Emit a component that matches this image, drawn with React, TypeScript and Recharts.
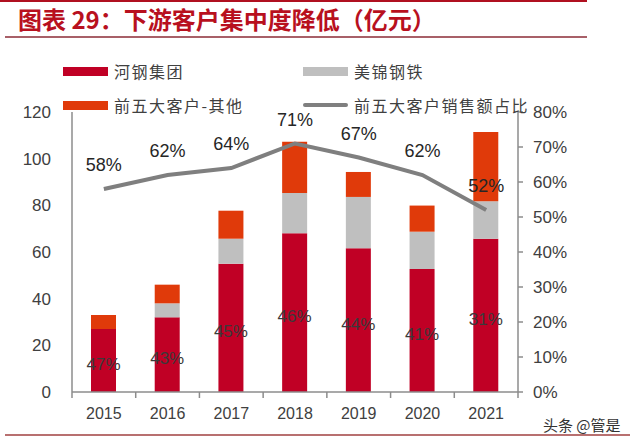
import React from 'react';
import { ComposedChart, Bar, Line, XAxis, YAxis, Legend, LabelList } from 'recharts';

const years = ['2015', '2016', '2017', '2018', '2019', '2020', '2021'];
const hegang = [27, 32, 55, 68, 61.6, 52.7, 65.7];
const meijin = [0, 6, 10.7, 17.3, 22, 16, 16];
const others = [6, 8, 12, 22, 10.7, 11.2, 29.7];
const top5Share = [58, 62, 64, 71, 67, 62, 52];
const hegangShare = [47, 43, 45, 46, 44, 41, 31];
const leftTicks = [0, 20, 40, 60, 80, 100, 120];
const rightTicks = [0, 10, 20, 30, 40, 50, 60, 70, 80];

const names = {
  hegang: '河钢集团',
  meijin: '美锦钢铁',
  others: '前五大客户-其他',
  share: '前五大客户销售额占比',
};

const data = years.map((y, i) => ({
  year: y,
  hegang: hegang[i],
  meijin: meijin[i],
  others: others[i],
  share: top5Share[i],
  hgShare: hegangShare[i],
}));

const COLORS = {
  hegang: '#C00025',
  meijin: '#BFBFBF',
  others: '#E03A0A',
  line: '#7F7F7F',
  text: '#404040',
};

const PLOT_LEFT = 72;
const PLOT_RIGHT = 518;
const BAND = (PLOT_RIGHT - PLOT_LEFT) / years.length;

const XTick = (props: any) => {
  const { x, y, payload } = props;
  const half = BAND / 2;
  const last = payload.value === years[years.length - 1];
  return (
    <g>
      <line x1={x - half} x2={x - half} y1={y} y2={y + 6} stroke="#8C8C8C" strokeWidth={1.5} />
      {last && <line x1={x + half} x2={x + half} y1={y} y2={y + 6} stroke="#8C8C8C" strokeWidth={1.5} />}
      <text x={x} y={y + 27} textAnchor="middle" fill={COLORS.text} fontSize={16} fontFamily="'Liberation Sans', Arial, sans-serif">
        {payload.value}
      </text>
    </g>
  );
};

const BarPctLabel = (props: any) => {
  const { x, y, width, height, value } = props;
  return (
    <text
      x={x + width / 2}
      y={y + height / 2 + 4}
      textAnchor="middle"
      dominantBaseline="central"
      fill="#3A3A3A"
      fontSize={17}
      fontFamily="'Liberation Sans', Arial, sans-serif"
    >
      {value}%
    </text>
  );
};

const legendFont = "'Noto Sans CJK SC', sans-serif";

const LegendContent = () => {
  const items = [
    { key: 'hegang', x: 63, y: 71, type: 'rect', color: COLORS.hegang },
    { key: 'meijin', x: 303, y: 71, type: 'rect', color: COLORS.meijin },
    { key: 'others', x: 63, y: 105, type: 'rect', color: COLORS.others },
    { key: 'share', x: 303, y: 105, type: 'line', color: COLORS.line },
  ];
  return (
    <div style={{ position: 'relative', width: 640, height: 0 }}>
      {items.map((it) => (
        <div key={it.key} style={{ position: 'absolute', left: it.x, top: it.y - 12, height: 24, display: 'flex', alignItems: 'center' }}>
          {it.type === 'rect' ? (
            <div style={{ width: 45, height: 9, background: it.color }} />
          ) : (
            <div style={{ width: 45, height: 4, borderRadius: 2, background: it.color }} />
          )}
          <span style={{ marginLeft: 6, fontSize: 16, letterSpacing: 1.5, color: COLORS.text, fontFamily: legendFont, whiteSpace: 'nowrap' }}>
            {(names as any)[it.key]}
          </span>
        </div>
      ))}
    </div>
  );
};

export default function App() {
  return (
    <div style={{ position: 'fixed', left: 0, top: 0, width: 640, height: 445, background: '#fff', overflow: 'hidden' }}>
      <div style={{ position: 'absolute', left: 0, top: 0, width: 587, height: 2, background: '#B01020' }} />
      <div
        style={{
          position: 'absolute',
          left: 18,
          top: 4,
          fontSize: 24,
          fontWeight: 700,
          color: '#B8101E',
          fontFamily: "'Noto Sans CJK SC', sans-serif",
          whiteSpace: 'nowrap',
          lineHeight: '30px',
        }}
      >
        图表 29：下游客户集中度降低（亿元）
      </div>
      <div style={{ position: 'absolute', left: 5, top: 36, width: 582, height: 1.5, background: '#A86068' }} />
      <div style={{ position: 'absolute', left: 5, top: 434, width: 625, height: 1.5, background: '#B87070' }} />
      <div
        style={{
          position: 'absolute',
          left: 543,
          top: 414,
          fontSize: 15,
          color: '#333',
          fontFamily: "'Noto Sans CJK SC', sans-serif",
          whiteSpace: 'nowrap',
        }}
      >
        头条 @管是
      </div>
      <div style={{ position: 'absolute', left: 0, top: 0 }}>
        <ComposedChart
          width={640}
          height={445}
          data={data}
          margin={{ top: 112, right: 0, bottom: 23, left: 0 }}
          barCategoryGap={0}
        >
          <XAxis
            dataKey="year"
            xAxisId="x"
            axisLine={{ stroke: '#8C8C8C', strokeWidth: 1.5 }}
            tickLine={false}
            tickSize={0}
            tickMargin={0}
            height={30}
            tick={<XTick />}
            interval={0}
          />
          <YAxis
            yAxisId="left"
            orientation="left"
            width={72}
            domain={[0, 120]}
            ticks={leftTicks}
            axisLine={{ stroke: '#8C8C8C', strokeWidth: 1.5 }}
            tickLine={false}
            tickSize={0}
            tickMargin={21}
            tick={{ fill: COLORS.text, fontSize: 17, fontFamily: "'Liberation Sans', Arial, sans-serif" }}
            interval={0}
          />
          <YAxis
            yAxisId="right"
            orientation="right"
            width={122}
            domain={[0, 80]}
            ticks={rightTicks}
            tickFormatter={(v: number) => `${v}%`}
            axisLine={{ stroke: '#8C8C8C', strokeWidth: 1.5 }}
            tickLine={{ stroke: '#8C8C8C', strokeWidth: 1.5 }}
            tickSize={5}
            tickMargin={10}
            tick={{ fill: COLORS.text, fontSize: 17, fontFamily: "'Liberation Sans', Arial, sans-serif" }}
            interval={0}
          />
          <Legend content={<LegendContent />} wrapperStyle={{ position: 'absolute', top: 0, left: 0, width: 640, height: 0 }} />
          <Bar dataKey="hegang" name={names.hegang} xAxisId="x" yAxisId="left" stackId="s" fill={COLORS.hegang} barSize={25} isAnimationActive={false}>
            <LabelList dataKey="hgShare" content={<BarPctLabel />} />
          </Bar>
          <Bar dataKey="meijin" name={names.meijin} xAxisId="x" yAxisId="left" stackId="s" fill={COLORS.meijin} barSize={25} isAnimationActive={false} />
          <Bar dataKey="others" name={names.others} xAxisId="x" yAxisId="left" stackId="s" fill={COLORS.others} barSize={25} isAnimationActive={false} />
          <Line
            dataKey="share"
            name={names.share}
            xAxisId="x"
            yAxisId="right"
            type="linear"
            stroke={COLORS.line}
            strokeWidth={4}
            dot={false}
            activeDot={false}
            isAnimationActive={false}
          >
            <LabelList
              dataKey="share"
              position="top"
              offset={18}
              formatter={(v: any) => `${v}%`}
              fill="#262626"
              fontSize={18}
              fontFamily="'Liberation Sans', Arial, sans-serif"
            />
          </Line>
        </ComposedChart>
      </div>
    </div>
  );
}
